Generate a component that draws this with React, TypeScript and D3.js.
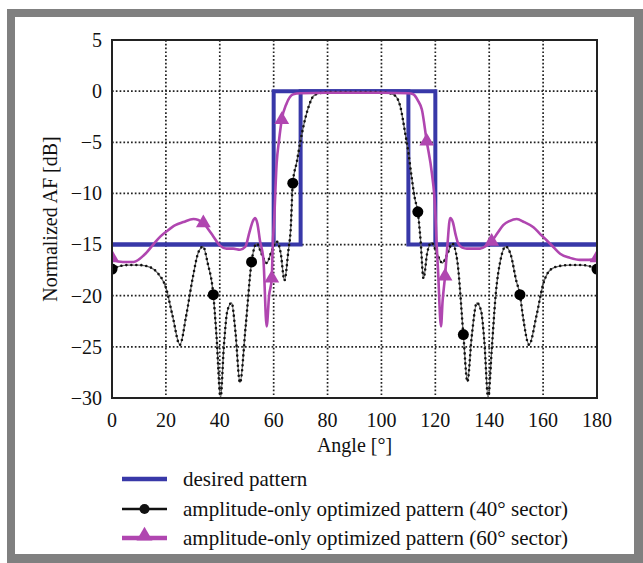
import React from "react";
import * as d3 from "d3";

const xTicks = [0, 20, 40, 60, 80, 100, 120, 140, 160, 180];
const yTicks = [5, 0, -5, -10, -15, -20, -25, -30];

// desired pattern (two sector masks)
const maskAngles60 = [0, 60, 60, 120, 120, 180];
const maskValues60 = [-15, -15, 0, 0, -15, -15];
const maskAngles40 = [0, 70, 70, 110, 110, 180];
const maskValues40 = [-15, -15, 0, 0, -15, -15];

// amplitude-only optimized pattern (40° sector)
const angles40 = [
  0, 3, 6, 10, 14, 17, 20, 22.5, 25.2, 27.5, 30, 32, 33.8, 35.5, 37.6, 38.8, 40.3, 41.5, 42.8, 44.4,
  45.8, 47.5, 49.6, 51.8, 53.7, 55.5, 57.4, 59.3, 61.1, 62.6, 64, 65.5, 66.3, 67.1, 68.6, 70, 71.6, 73,
  74.7, 77, 80, 85, 90, 95, 100, 103, 105.3, 107, 108.8, 110, 111.2, 112.4, 113.5, 114.5, 115.6, 117,
  118.6, 120.5, 122.6, 124.5, 126.3, 128.2, 130.4, 131.9, 133.5, 135.4, 137, 138.2, 139.6, 141, 142.4,
  144.2, 146.1, 148, 150, 151.4, 152.5, 154.8, 157.5, 160.1, 163, 166, 170, 174, 177, 180,
];
const values40 = [
  -17.4, -17.1, -17.0, -17.0, -17.2, -17.8, -19.2, -22.0, -24.8, -22.0, -18.2, -15.8, -15.2, -16.8, -19.9, -24, -30, -25, -21.5, -20.7,
  -23.5, -28.5, -23.0, -16.7, -14.9, -15.9, -16.8, -15.6, -14.7, -15.8, -18.5, -15.5, -13.6, -9.0, -6.9, -4.8, -2.8, -1.5,
  -0.5, -0.2, -0.1, -0.1, -0.1, -0.1, -0.1, -0.2, -0.5, -1.5, -4.1, -6.0, -8.4, -10.5, -11.8, -14.5, -18.3, -15.8,
  -14.8, -15.8, -16.8, -15.9, -14.9, -16.7, -23.8, -28.4, -24, -20.7, -21.5, -24.5, -30, -25, -19.9,
  -16.5, -15.2, -16.0, -18.5, -19.9, -22, -24.8, -22, -18.8, -17.4, -17.1, -17.0, -17.0, -17.1, -17.4,
];
const markerAngles40 = [0, 37.6, 51.8, 67.1, 113.5, 130.4, 151.4, 180];
const markerValues40 = [-17.4, -19.9, -16.7, -9.0, -11.8, -23.8, -19.9, -17.4];

// amplitude-only optimized pattern (60° sector)
const angles60 = [
  0, 4, 8, 12, 15.3, 18, 20.3, 23.5, 26.5, 30.2, 33.9, 36, 37.6, 40.1, 42.5, 45, 47.5, 49.5, 51, 52.3,
  53.1, 54, 54.9, 56.2, 57.4, 58.3, 59.3, 59.6, 60.2, 61.1, 62, 63, 64.8, 67.3, 70, 80, 90, 100, 110,
  111.8, 113.5, 115, 116.8, 118.7, 119.9, 120.5, 121, 122.1, 122.7, 123.6, 124.5, 125.5, 126.5, 127.5,
  128.5, 130, 131.7, 134, 136.6, 139, 140.9, 143, 145.2, 147.5, 150.2, 153, 156.4, 159, 161.4, 164,
  166.3, 170, 173.7, 177, 180,
];
const values60 = [
  -16.5, -16.7, -16.7, -16.0, -15.0, -14.2, -13.7, -13.1, -12.8, -12.5, -12.9, -13.6, -14.2, -15.1, -15.4, -15.4, -15.5, -15.2, -13.8, -12.7,
  -12.4, -13.0, -14.6, -16.5, -23.0, -20, -18.3, -15.5, -12.5, -7.1, -4.8, -2.8, -1.2, -0.3, -0.2, -0.15, -0.15, -0.15, -0.2,
  -0.3, -0.9, -1.8, -4.9, -8.0, -11.3, -15, -17.5, -23.0, -20.5, -18.1, -15, -12.4, -12.8, -14.0,
  -14.9, -15.3, -15.4, -15.4, -15.4, -15.1, -14.7, -13.9, -13.1, -12.7, -12.5, -12.8, -13.3, -14.0, -14.6, -15.3,
  -15.9, -16.3, -16.5, -16.5, -16.4,
];
const markerAngles60 = [0, 33.9, 59.3, 63, 116.8, 123.6, 140.9, 180];
const markerValues60 = [-16.3, -12.9, -18.3, -2.8, -4.9, -18.1, -14.7, -16.3];

const legendLabels = [
  "desired pattern",
  "amplitude-only optimized pattern (40° sector)",
  "amplitude-only optimized pattern (60° sector)",
];

const BLUE = "#3838a8";
const MAGENTA = "#b046b0";
const FONT = "'Liberation Serif', 'Times New Roman', serif";

export default function App() {
  const left = 112, right = 597, top = 40, bottom = 398;
  const x = d3.scaleLinear().domain([0, 180]).range([left, right]);
  const y = d3.scaleLinear().domain([-30, 5]).range([bottom, top]);

  const zip = (a: number[], b: number[]) => a.map((v, i) => [v, b[i]] as [number, number]);
  const stepLine = d3.line<[number, number]>().x((d) => x(d[0])).y((d) => y(d[1]));
  const smoothLine = d3
    .line<[number, number]>()
    .x((d) => x(d[0]))
    .y((d) => y(d[1]))
    .curve(d3.curveMonotoneX);

  const path40 = smoothLine(zip(angles40, values40)) || "";
  const path60 = smoothLine(zip(angles60, values60)) || "";
  const tri = d3.symbol().type(d3.symbolTriangle).size(95)() || "";
  const triLegend = d3.symbol().type(d3.symbolTriangle).size(110)() || "";

  const minus = (v: number) => (v < 0 ? "\u2212" + Math.abs(v) : String(v));

  const legendY = [479, 509, 538];

  return (
    <svg
      width={643}
      height={563}
      style={{ position: "absolute", left: 0, top: 0, background: "#fff" }}
      fontFamily={FONT}
    >
      <rect x={7} y={9} width={636} height={554} fill="#808080" />
      <rect x={15} y={17} width={619} height={537} fill="#fff" />
      <defs>
        <clipPath id="plotClip">
          <rect x={left} y={top} width={right - left} height={bottom - top} />
        </clipPath>
      </defs>

      {/* grid */}
      <g stroke="#222" strokeWidth={1.7} strokeDasharray="1.7 2.1">
        {xTicks.slice(1, -1).map((t) => (
          <line key={"gx" + t} x1={x(t)} x2={x(t)} y1={top} y2={bottom} />
        ))}
        {yTicks.slice(1, -1).map((t) => (
          <line key={"gy" + t} x1={left} x2={right} y1={y(t)} y2={y(t)} />
        ))}
      </g>

      <g clipPath="url(#plotClip)">
        <path d={stepLine(zip(maskAngles40, maskValues40)) || ""} fill="none" stroke={BLUE} strokeWidth={4} />
        <path d={stepLine(zip(maskAngles60, maskValues60)) || ""} fill="none" stroke={BLUE} strokeWidth={4} />

        <path d={path40} fill="none" stroke="#666" strokeWidth={1.3} />
        <path d={path40} fill="none" stroke="#111" strokeWidth={2.6} strokeLinecap="round" strokeDasharray="0 5" />
        {markerAngles40.map((a, i) => (
          <circle key={"c" + i} cx={x(a)} cy={y(markerValues40[i])} r={5.5} fill="#000" />
        ))}

        <path d={path60} fill="none" stroke={MAGENTA} strokeWidth={2.6} />
        {markerAngles60.map((a, i) => (
          <path key={"t" + i} d={tri} transform={`translate(${x(a)},${y(markerValues60[i])})`} fill={MAGENTA} />
        ))}
      </g>

      {/* axes box */}
      <rect x={left} y={top} width={right - left} height={bottom - top} fill="none" stroke="#222" strokeWidth={2} />

      {/* tick labels */}
      <g fontSize={20} fill="#111">
        {yTicks.map((t) => (
          <text key={"yl" + t} x={102} y={y(t)} dy="0.34em" textAnchor="end">
            {minus(t)}
          </text>
        ))}
        {xTicks.map((t) => (
          <text key={"xl" + t} x={x(t)} y={427} textAnchor="middle">
            {t}
          </text>
        ))}
        <text x={(left + right) / 2} y={452} textAnchor="middle">
          Angle [°]
        </text>
        <text transform={`translate(57,${(top + bottom) / 2}) rotate(-90)`} textAnchor="middle">
          Normalized AF [dB]
        </text>
      </g>

      {/* legend */}
      <g fontSize={21} fill="#111">
        <line x1={122} x2={167} y1={legendY[0]} y2={legendY[0]} stroke={BLUE} strokeWidth={4.5} />
        <line x1={122} x2={167} y1={legendY[1]} y2={legendY[1]} stroke="#111" strokeWidth={2.5} />
        <circle cx={144.5} cy={legendY[1]} r={5} fill="#111" />
        <line x1={122} x2={167} y1={legendY[2]} y2={legendY[2]} stroke={MAGENTA} strokeWidth={4.5} />
        <path d={triLegend} transform={`translate(144.5,${legendY[2] - 2})`} fill={MAGENTA} />
        {legendLabels.map((l, i) => (
          <text key={l} x={183} y={legendY[i]} dy="0.32em">
            {l}
          </text>
        ))}
      </g>
    </svg>
  );
}
